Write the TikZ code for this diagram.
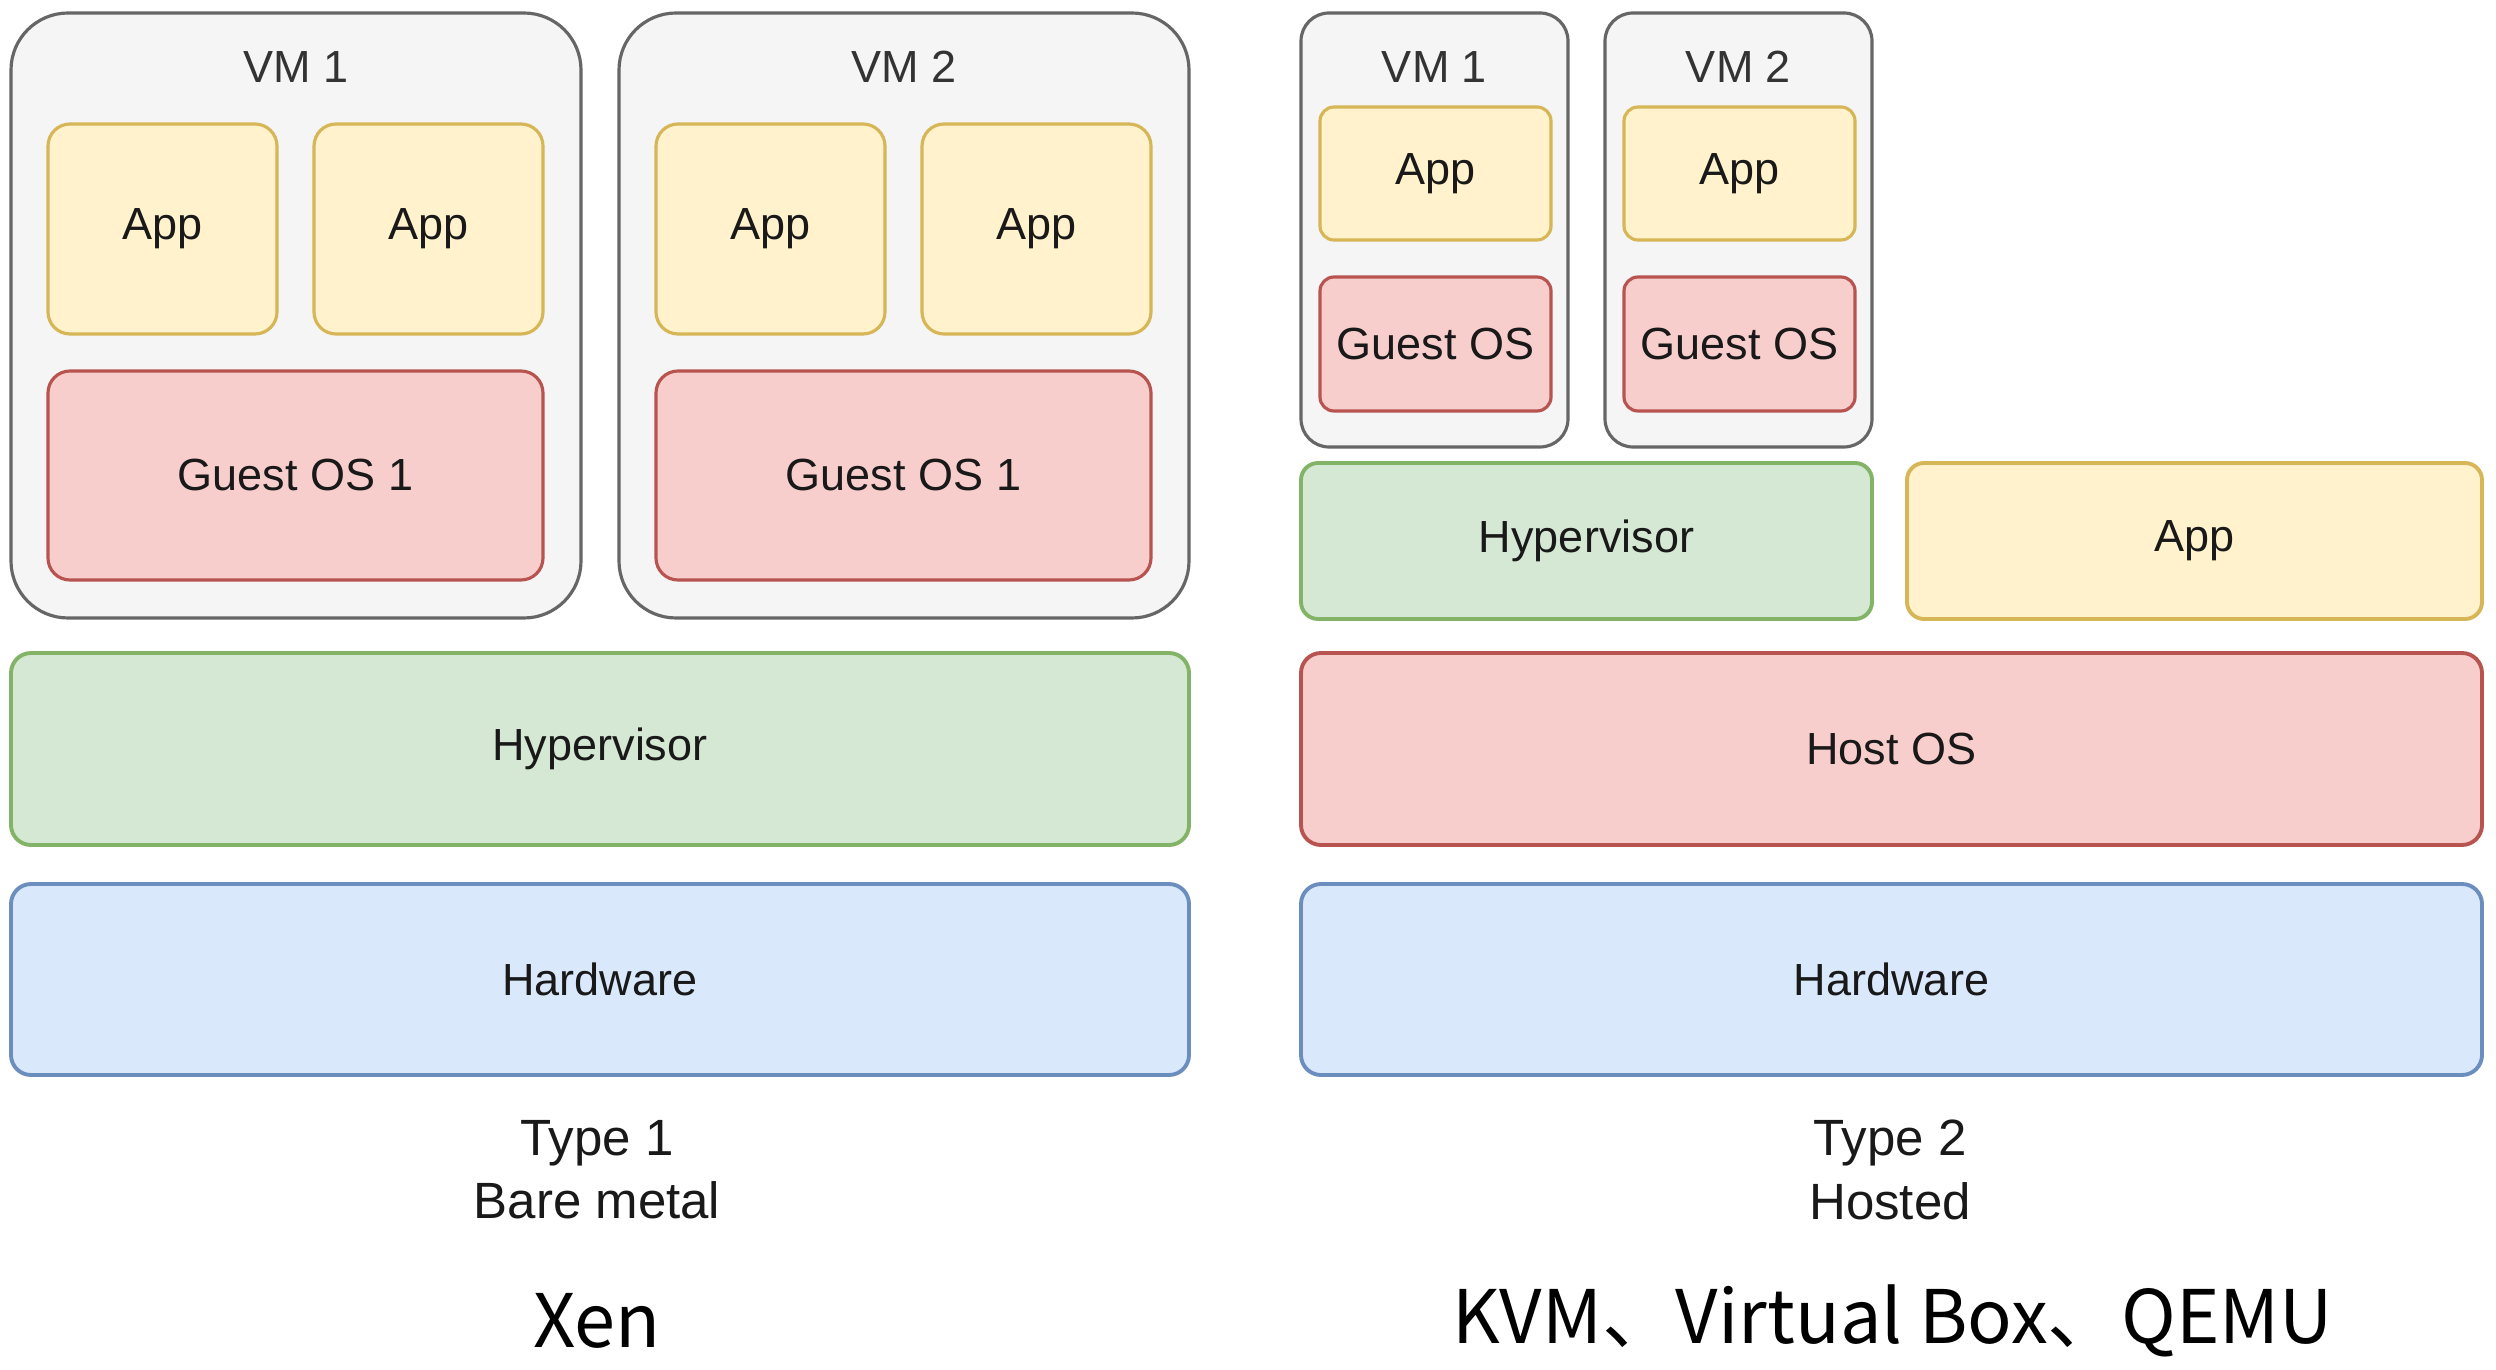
\documentclass[tikz,border=0pt]{standalone}
\usepackage{fontspec}
\setmainfont{Liberation Sans}
\newfontfamily\cjk{Noto Sans CJK SC}
\begin{document}
\begin{tikzpicture}[x=0.01cm,y=-0.01cm,
  box/.style={draw, line width=1.1pt},
  txt/.style={font=\fontsize{12.8pt}{14pt}\selectfont, text=black!90},
  vmbox/.style={box, draw=vmline, fill=vmfill, line width=0.9pt},
  appbox/.style={box, draw=ylline, fill=ylfill, line width=0.9pt},
  osbox/.style={box, draw=rdline, fill=rdfill, line width=0.9pt},
  hvbox/.style={box, draw=grline, fill=grfill},
  hwbox/.style={box, draw=blline, fill=blfill},
  hostbox/.style={box, draw=rdline, fill=rdfill},
  wideapp/.style={box, draw=ylline, fill=ylfill},
  vmlabel/.style={font=\fontsize{12.8pt}{14pt}\selectfont, text=black!80},
  typelabel/.style={font=\fontsize{14.5pt}{18pt}\selectfont, align=center, text=black!90},
  biglabel/.style={font=\cjk\fontsize{21pt}{24pt}\selectfont, text=black}
]
\definecolor{vmfill}{HTML}{F5F5F5}\definecolor{vmline}{HTML}{666666}
\definecolor{ylfill}{HTML}{FFF2CC}\definecolor{ylline}{HTML}{D6B656}
\definecolor{rdfill}{HTML}{F8CECC}\definecolor{rdline}{HTML}{B85450}
\definecolor{grfill}{HTML}{D5E8D4}\definecolor{grline}{HTML}{82B366}
\definecolor{blfill}{HTML}{DAE8FC}\definecolor{blline}{HTML}{6C8EBF}
\useasboundingbox (0,0) rectangle (2496,1370);

% ---------- Type 1 ----------
\draw[vmbox, rounded corners=0.57cm] (11,13) rectangle (581,618);
\node[vmlabel] (l-vm1) at (296,67) {VM 1};
\draw[appbox, rounded corners=0.22cm] (48,124) rectangle (277,334);
\node[txt] (l-app1) at (162.5,229) {App};
\draw[appbox, rounded corners=0.22cm] (314,124) rectangle (543,334);
\node[txt] (l-app2) at (428.5,229) {App};
\draw[osbox, rounded corners=0.22cm] (48,371) rectangle (543,580);
\node[txt] (l-os1) at (295.5,475.5) {Guest OS 1};

\draw[vmbox, rounded corners=0.57cm] (619,13) rectangle (1189,618);
\node[vmlabel] (l-vm2) at (904,67) {VM 2};
\draw[appbox, rounded corners=0.22cm] (656,124) rectangle (885,334);
\node[txt] (l-app3) at (770.5,229) {App};
\draw[appbox, rounded corners=0.22cm] (922,124) rectangle (1151,334);
\node[txt] (l-app4) at (1036.5,229) {App};
\draw[osbox, rounded corners=0.22cm] (656,371) rectangle (1151,580);
\node[txt] (l-os2) at (903.5,475.5) {Guest OS 1};

\draw[hvbox, rounded corners=0.2cm] (11,653) rectangle (1189,845);
\node[txt] (l-hv) at (600,749) {Hypervisor};
\draw[hwbox, rounded corners=0.2cm] (11,884) rectangle (1189,1075);
\node[txt] (l-hw) at (600,979.5) {Hardware};

\node[typelabel] (l-type) at (597,1170) {Type 1\\Bare metal};
\node[biglabel] (l-xen) at (597,1321) {Xen};

% ---------- Type 2 ----------
\draw[vmbox, rounded corners=0.28cm] (1301,13) rectangle (1568,447);
\node[vmlabel] (r-vm1) at (1434.5,67) {VM 1};
\draw[appbox, rounded corners=0.14cm] (1320,107) rectangle (1551,240);
\node[txt] (r-app1) at (1435.5,173.5) {App};
\draw[osbox, rounded corners=0.14cm] (1320,277) rectangle (1551,411);
\node[txt] (r-os1) at (1435.5,344) {Guest OS};

\draw[vmbox, rounded corners=0.28cm] (1605,13) rectangle (1872,447);
\node[vmlabel] (r-vm2) at (1738.5,67) {VM 2};
\draw[appbox, rounded corners=0.14cm] (1624,107) rectangle (1855,240);
\node[txt] (r-app2) at (1739.5,173.5) {App};
\draw[osbox, rounded corners=0.14cm] (1624,277) rectangle (1855,411);
\node[txt] (r-os2) at (1739.5,344) {Guest OS};

\draw[hvbox, rounded corners=0.17cm] (1301,463) rectangle (1872,619);
\node[txt] (r-hv) at (1586.5,541) {Hypervisor};
\draw[wideapp, rounded corners=0.17cm] (1907,463) rectangle (2482,619);
\node[txt] (r-app) at (2194.5,541) {App};

\draw[hostbox, rounded corners=0.2cm] (1301,653) rectangle (2482,845);
\node[txt] (r-host) at (1891.5,749) {Host OS};
\draw[hwbox, rounded corners=0.2cm] (1301,884) rectangle (2482,1075);
\node[txt] (r-hw) at (1891.5,979.5) {Hardware};

\node[typelabel] (r-type) at (1890,1170) {Type 2\\Hosted};
\node[biglabel] (r-kvm) at (1893,1321) {KVM、Virtual Box、QEMU};
\end{tikzpicture}
\end{document}
